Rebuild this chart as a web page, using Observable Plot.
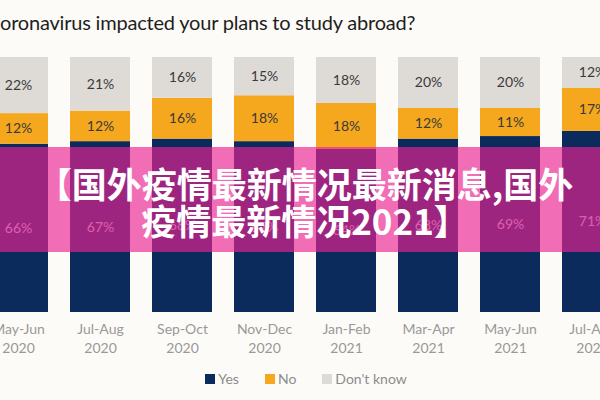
<!DOCTYPE html>
<html>
<head>
<meta charset="utf-8">
<script src="https://cdn.jsdelivr.net/npm/d3@7"></script>
<script src="https://cdn.jsdelivr.net/npm/@observablehq/plot@0.6"></script>
<style>
  html, body { margin: 0; padding: 0; background: #fdfbf8; width: 600px; height: 400px; overflow: hidden; }
  #wrap { position: relative; width: 600px; height: 400px; overflow: hidden; }
  #title { position: absolute; top: 10px; left: 0; white-space: nowrap; letter-spacing: -0.2px;
           font-family: Lato, sans-serif; font-size: 20px; color: #1e1e1e; }
  #chart { position: absolute; top: 48px; left: 0; }
  #legend { position: absolute; top: 370px; left: 0; width: 600px; display: flex; justify-content: center; gap: 26px;
            font-family: Lato, sans-serif; font-size: 14px; color: #8c8c8c; padding-left: 12px; box-sizing: border-box; }
  #legend .item { display: flex; align-items: center; gap: 3px; }
  #legend .sw { width: 10px; height: 10px; display: inline-block; }
  #banner { position: absolute; top: 147px; left: 0; width: 600px; height: 105px; background: rgba(236,35,145,0.66);
            color: #fff; font-family: "Noto Sans CJK SC", sans-serif; font-weight: 700; font-size: 35px;
            line-height: 37px; text-align: center; padding-top: 17px; box-sizing: border-box; padding-left: 10px; }
</style>
</head>
<body>
<div id="wrap">
  <div id="title">oronavirus impacted your plans to study abroad?</div>
  <div id="chart"></div>
  <div id="banner">【国外疫情最新情况最新消息,国外<br>疫情最新情况2021】</div>
  <div id="legend"></div>
</div>
<script>
const periods = ["May-Jun\n2020", "Jul-Aug\n2020", "Sep-Oct\n2020", "Nov-Dec\n2020", "Jan-Feb\n2021", "Mar-Apr\n2021", "May-Jun\n2021", "Jul-Aug\n2021"];
const yesValues = [66, 67, 68, 67, 64, 68, 69, 71];
const noValues = [12, 12, 16, 18, 18, 12, 11, 17];
const dontKnowValues = [22, 21, 16, 15, 18, 20, 20, 12];
const answers = ["Yes", "No", "Don't know"];
const colors = ["#0a2b5c", "#f5a81e", "#dedbd7"];

const data = [];
periods.forEach((p, i) => {
  data.push({period: p, answer: "Yes", value: yesValues[i]});
  data.push({period: p, answer: "No", value: noValues[i]});
  data.push({period: p, answer: "Don't know", value: dontKnowValues[i]});
});

const chart = Plot.plot({
  width: 600,
  height: 310,
  marginTop: 9,
  marginBottom: 46,
  marginLeft: 0,
  marginRight: 0,
  style: {background: "transparent", fontFamily: "Lato, sans-serif"},
  x: {domain: periods, range: [-23, 633], paddingInner: 0.268, paddingOuter: 0.134, align: 0.5, label: null},
  y: {domain: [0, 100], axis: null},
  color: {domain: answers, range: colors},
  marks: [
    Plot.barY(data, Plot.stackY({x: "period", y: "value", fill: "answer", order: answers})),
    Plot.text(data, Plot.stackY({x: "period", y: "value", z: "answer", order: answers,
      text: d => d.value + "%",
      fill: d => d.answer === "Yes" ? "#c5cfe0" : "#3a3a3a",
      fontSize: 14})),
    Plot.axisX({tickSize: 0, tickPadding: 8, fontSize: 14, lineHeight: 1.35, fill: "#999", label: null})
  ]
});
document.getElementById("chart").appendChild(chart);

const legend = document.getElementById("legend");
answers.forEach((a, i) => {
  const item = document.createElement("div");
  item.className = "item";
  item.innerHTML = `<span class="sw" style="background:${colors[i]}"></span><span>${a}</span>`;
  legend.appendChild(item);
});
</script>
</body>
</html>
